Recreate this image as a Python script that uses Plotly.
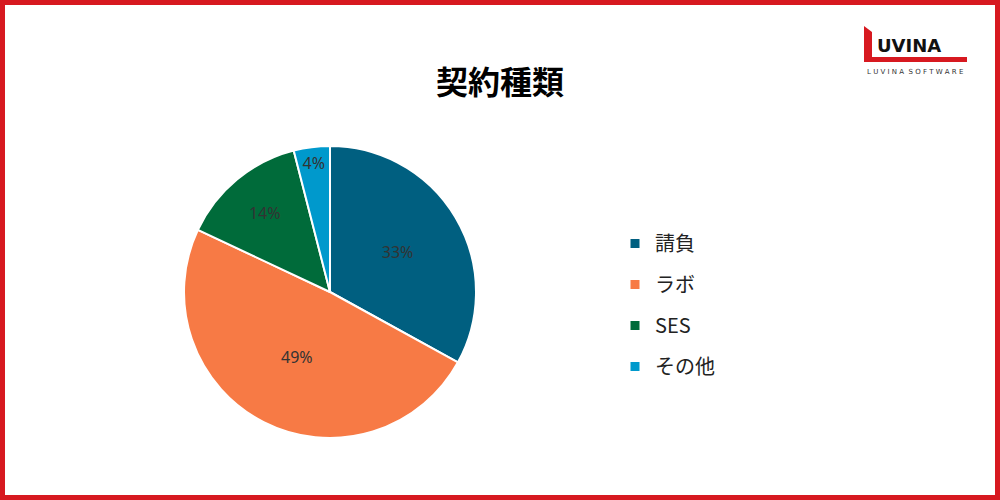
import plotly.graph_objects as go

labels = ["請負", "ラボ", "SES", "その他"]
values = [33, 49, 14, 4]
colors = ["#005f80", "#f77a45", "#006b3a", "#0099cc"]

fig = go.Figure()
fig.add_trace(go.Pie(
    labels=labels, values=values, sort=False, direction="clockwise", rotation=0,
    marker=dict(colors=colors, line=dict(color="white", width=2)),
    textinfo="percent", texttemplate="%{percent:.0%}", textposition="inside",
    insidetextorientation="horizontal",
    textfont=dict(family="Noto Sans", size=16, color="#333333"),
    domain=dict(x=[0.184, 0.476], y=[0.124, 0.708]),
    showlegend=False, hoverinfo="label+percent",
))
# legend entries as separate traces so spacing can be set
for lab, col in zip(labels, colors):
    fig.add_trace(go.Scatter(
        x=[None], y=[None], mode="markers", name=lab, legendgroup=lab,
        marker=dict(symbol="square", size=9, color=col),
    ))

fig.update_layout(
    width=1000, height=500, margin=dict(l=0, r=0, t=0, b=0),
    paper_bgcolor="white", plot_bgcolor="white",
    xaxis=dict(visible=False), yaxis=dict(visible=False),
    title=dict(text="<b>契約種類</b>", x=0.5, xanchor="center", y=0.835, yanchor="middle",
               font=dict(family="Noto Sans CJK JP", size=32, color="black")),
    legend=dict(x=0.615, y=0.39, yanchor="middle", xanchor="left", traceorder="grouped",
                tracegroupgap=12, itemwidth=30,
                font=dict(family="Noto Sans CJK JP", size=20, color="#222222")),
    shapes=[
        dict(type="rect", xref="paper", yref="paper", x0=0.0025, y0=0.005, x1=0.9975, y1=0.995,
             line=dict(color="#d71920", width=5)),
        dict(type="path", xref="paper", yref="paper",
             path="M 0.864 0.948 L 0.872 0.936 L 0.872 0.886 L 0.967 0.886 L 0.967 0.876 L 0.864 0.876 Z",
             fillcolor="#d71920", line=dict(width=0)),
    ],
    annotations=[
        dict(text="<b>UVINA</b>", xref="paper", yref="paper", x=0.875, y=0.908, xanchor="left",
             yanchor="middle", showarrow=False, font=dict(family="DejaVu Sans", size=18, color="#111111")),
        dict(text="L U V I N A  S O F T W A R E", xref="paper", yref="paper", x=0.915, y=0.856,
             xanchor="center", yanchor="middle", showarrow=False,
             font=dict(family="DejaVu Sans", size=7, color="#333333")),
    ],
)
fig.write_html("out.html", config={"displayModeBar": False})

# drop the default page margin so the figure fills the window
with open("out.html", encoding="utf-8") as f:
    html = f.read()
html = html.replace("<body>", '<body style="margin:0;overflow:hidden">', 1)
with open("out.html", "w", encoding="utf-8") as f:
    f.write(html)
